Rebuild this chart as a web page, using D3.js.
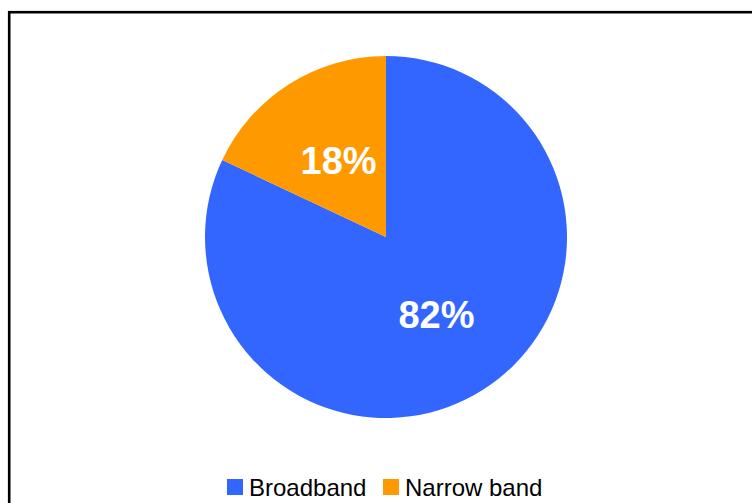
<!DOCTYPE html>
<html>
<head>
<meta charset="utf-8">
<script src="https://cdn.jsdelivr.net/npm/d3@7"></script>
<style>
  html, body { margin: 0; padding: 0; background: #fff; }
  svg { display: block; }
</style>
</head>
<body>
<script>
// Access type shares
const categories = ["Broadband", "Narrow band"];
const shares = [82, 18];
const colors = ["#3366FF", "#FF9900"];

const W = 752, H = 503;
const svg = d3.select("body").append("svg")
  .attr("width", W).attr("height", H);

// Chart frame (extends past the right and bottom edges)
svg.append("rect")
  .attr("x", 9.2).attr("y", 12.2)
  .attr("width", W + 20).attr("height", H + 20)
  .attr("fill", "none").attr("stroke", "#000").attr("stroke-width", 2.6);

const cx = 386, cy = 237, r = 181;
const data = categories.map((c, i) => ({ name: c, value: shares[i], color: colors[i] }));

const pie = d3.pie().value(d => d.value).sort(null);
const arc = d3.arc().innerRadius(0).outerRadius(r);
const labelArc = d3.arc().innerRadius(r * 0.505).outerRadius(r * 0.505);

const g = svg.append("g").attr("transform", `translate(${cx},${cy})`);
const arcs = pie(data);

g.selectAll("path").data(arcs).join("path")
  .attr("d", arc)
  .attr("fill", d => d.data.color);

g.selectAll("text").data(arcs).join("text")
  .attr("transform", d => {
    const [x, y] = labelArc.centroid(d);
    return `translate(${x + 1.5},${y})`;
  })
  .attr("text-anchor", "middle")
  .attr("dy", "0.36em")
  .attr("fill", "#fff")
  .style("font-family", "Liberation Sans, Arial, sans-serif")
  .style("font-weight", "bold")
  .style("font-size", "38px")
  .text(d => d.data.value + "%");

// Legend
const legend = svg.append("g").attr("transform", "translate(227,479)");
const offsets = [0, 156];
data.forEach((d, i) => {
  const it = legend.append("g").attr("transform", `translate(${offsets[i]},0)`);
  it.append("rect").attr("width", 16).attr("height", 16).attr("fill", d.color);
  it.append("text")
    .attr("x", 22).attr("y", 16.5)
    .style("font-family", "Liberation Sans, Arial, sans-serif")
    .style("font-size", "24px")
    .attr("fill", "#000")
    .text(d.name);
});
</script>
</body>
</html>
